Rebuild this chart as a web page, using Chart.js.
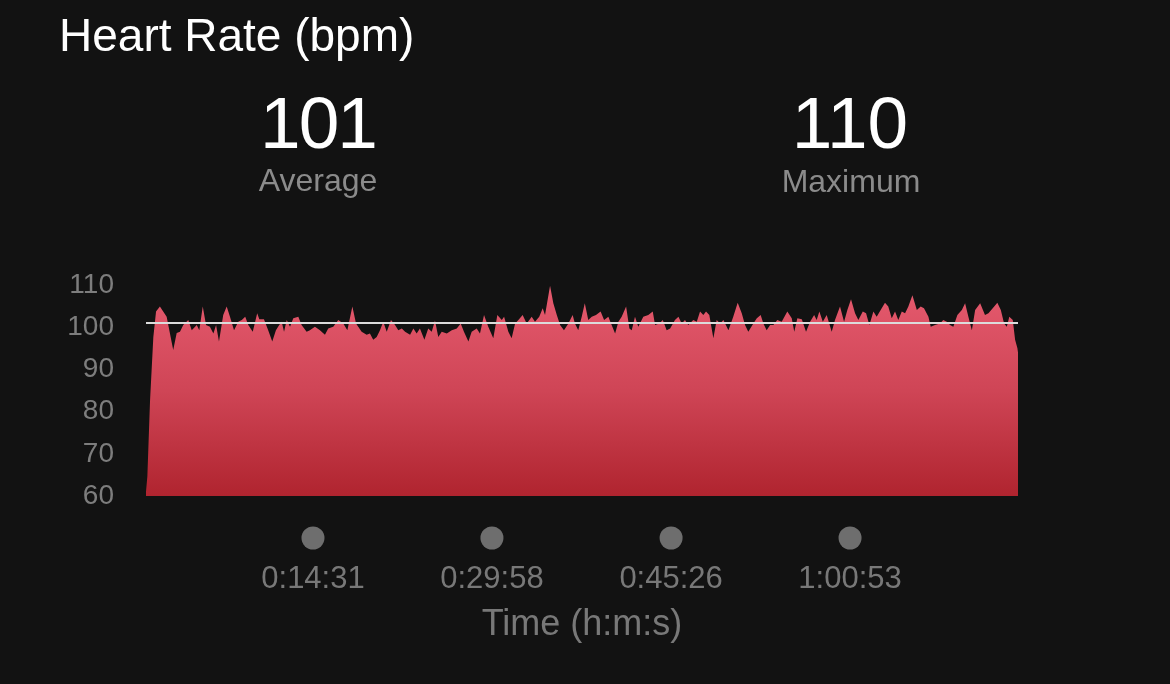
<!DOCTYPE html>
<html>
<head>
<meta charset="utf-8">
<script src="https://cdn.jsdelivr.net/npm/chart.js@4/dist/chart.umd.min.js"></script>
<style>
  html, body { margin: 0; padding: 0; background: #121212; }
  #wrap { position: relative; width: 1170px; height: 684px; overflow: hidden; background: #121212; }
  canvas { position: absolute; left: 0; top: 0; }
  .txt { position: absolute; font-family: 'Liberation Sans', Arial, sans-serif; line-height: 1; white-space: nowrap; }
  #title { left: 59px; top: 12px; font-size: 46px; color: #ffffff; }
  .big { font-size: 73px; color: #ffffff; width: 300px; text-align: center; top: 86px; }
  .lab { font-size: 32px; color: #8b8b8b; width: 300px; text-align: center; top: 164px; }
</style>
</head>
<body>
<div id="wrap">
  <canvas id="c" width="1170" height="684"></canvas>
  <div id="title" class="txt">Heart Rate (bpm)</div>
  <div id="avgVal" class="txt big" style="left:168px;letter-spacing:-2px"></div>
  <div id="avgLab" class="txt lab" style="left:168px">Average</div>
  <div id="maxVal" class="txt big" style="left:700px"></div>
  <div id="maxLab" class="txt lab" style="left:701px;top:165px">Maximum</div>
</div>
<script>
// ---- data (elapsed seconds, heart rate bpm) ----
const times = [
  6, 13, 27, 44, 58, 78, 113, 147, 165, 182, 199, 225, 243, 269, 282, 300, 317, 337, 355, 369,
  384, 406, 424, 441, 462, 484, 502, 520, 536, 559, 582, 593, 617, 639, 660, 679, 696, 709, 721, 735,
  752, 769, 795, 812, 838, 855, 881, 907, 933, 950, 976, 1002, 1028, 1049, 1075, 1094, 1123, 1149, 1166, 1183,
  1201,
  1218, 1235, 1253, 1275, 1296, 1313, 1331, 1348, 1374, 1391, 1408, 1425, 1448, 1468, 1486, 1503, 1520, 1538, 1564, 1590,
  1616, 1636, 1653, 1676, 1693, 1719, 1736, 1757, 1779, 1805, 1826, 1849, 1861, 1883, 1900, 1918, 1935, 1957, 1978, 2004,
  2021, 2043, 2061, 2073, 2099, 2116, 2134, 2151, 2171, 2194, 2216, 2228, 2245, 2263, 2279, 2297, 2315, 2337, 2361, 2379,
  2401, 2418, 2436, 2453, 2470, 2493, 2510, 2522, 2539, 2556, 2582, 2608, 2631, 2643, 2665, 2683, 2703, 2721, 2746, 2764,
  2781, 2798, 2815, 2841, 2859,
  2876, 2893, 2907, 2924, 2945, 2962, 2980, 2997, 3023, 3048, 3071, 3092, 3109, 3126, 3152, 3170, 3190, 3204, 3221, 3239,
  3256, 3276, 3299, 3328, 3351, 3364, 3380, 3403, 3425, 3446, 3467, 3480, 3494, 3512, 3532, 3558, 3575, 3601, 3622, 3639,
  3658, 3679, 3696, 3719, 3736, 3753, 3774, 3791, 3817, 3834, 3851, 3869, 3886, 3903, 3921, 3938, 3955, 3976, 3999, 4019,
  4036, 4059, 4071, 4093, 4119, 4136, 4154, 4171, 4188, 4209, 4232, 4249, 4266, 4284, 4301, 4327, 4352, 4370, 4392, 4416,
  4434, 4451, 4465, 4478, 4496, 4508, 4520, 4523
];
const heartRate = [
  61, 64.6, 82.7, 97.7, 103.7, 104.9, 102.5, 94.6, 98.6, 98.9, 100.5, 101.7, 99.3, 100.5, 99.3, 104.9, 100.5, 100.1, 98.5, 100.5,
  96.6, 102.9, 104.9, 102.5, 99.3, 101.3, 101.7, 102.5, 100.5, 98.9, 103.3, 101.9, 101.9, 99.3, 96.6, 99.3, 100.5, 101.3, 98.9, 101.7,
  100.1, 102.1, 102.5, 100.5, 98.9, 99.3, 100.1, 99.3, 98.2, 99.7, 100.1, 101.7, 100.9, 99.3, 104.9, 100.9, 98.9, 98.2, 98.5, 97.0,
  97.7,
  99.3, 101.3, 98.9, 101.7, 100.5, 99.3, 99.7, 98.9, 98.2, 99.7, 98.5, 99.7, 97.0, 99.7, 98.9, 101.6, 97.7, 98.9, 98.5, 99.3,
  99.7, 100.9, 98.9, 96.6, 98.9, 99.7, 98.5, 102.9, 100.1, 97.4, 102.9, 101.7, 102.5, 98.9, 97.4, 100.9, 101.7, 102.9, 100.9, 102.5,
  101.3, 102.5, 104.5, 102.9, 109.8, 105.7, 102.9, 100.5, 99.3, 100.9, 102.9, 100.9, 99.3, 102.5, 105.7, 101.7, 102.5, 102.9, 103.7, 101.7,
  102.5, 100.5, 98.5, 101.3, 102.5, 104.9, 99.7, 99.3, 102.5, 100.1, 102.5, 102.9, 103.7, 100.5, 100.9, 101.7, 99.3, 99.7, 101.7, 102.5,
  100.9, 101.7, 100.5, 101.7, 101.3,
  103.7, 102.9, 103.7, 102.9, 97.4, 101.7, 100.9, 101.7, 99.3, 102.5, 105.8, 103.3, 100.5, 98.9, 100.9, 102.1, 102.9, 100.9, 99.3, 100.5,
  100.5, 101.7, 101.3, 103.7, 102.1, 98.9, 102.1, 101.9, 98.9, 101.3, 102.9, 101.7, 103.7, 101.3, 102.9, 98.9, 101.7, 104.9, 101.3, 104.1,
  106.6, 103.3, 101.7, 103.7, 103.3, 100.5, 103.7, 102.5, 104.5, 105.8, 104.9, 102.1, 103.7, 101.7, 103.7, 103.3, 104.9, 107.6, 104.1, 104.9,
  104.5, 102.5, 100.1, 100.5, 100.9, 101.7, 101.3, 100.5, 100.1, 102.9, 104.1, 105.7, 102.5, 99.3, 104.1, 105.7, 102.9, 103.3, 104.5, 105.8,
  104.1, 100.9, 100.1, 102.5, 101.7, 97.0, 95.0, 94.0
];
const averageHR = 101;
const maximumHR = 110;
const yTicks = [60, 70, 80, 90, 100, 110];
const xTickSeconds = [871, 1798, 2726, 3653];
const xTickLabels = ['0:14:31', '0:29:58', '0:45:26', '1:00:53'];
const statLabels = ['Average', 'Maximum'];
const xTitle = 'Time (h:m:s)';

document.getElementById('avgVal').textContent = String(averageHR);
document.getElementById('maxVal').textContent = String(maximumHR);
document.getElementById('avgLab').textContent = statLabels[0];
document.getElementById('maxLab').textContent = statLabels[1];

const FONT = "'Liberation Sans', Arial, sans-serif";
const tMin = times[0], tMax = times[times.length - 1];

const tickDots = {
  id: 'tickDots',
  afterDraw(chart) {
    const ctx = chart.ctx, xs = chart.scales.x, ca = chart.chartArea;
    ctx.save();
    ctx.fillStyle = '#6e6e6e';
    xTickSeconds.forEach(t => {
      ctx.beginPath();
      ctx.arc(xs.getPixelForValue(t), ca.bottom + 42, 11.5, 0, Math.PI * 2);
      ctx.fill();
    });
    ctx.restore();
  }
};

new Chart(document.getElementById('c'), {
  type: 'line',
  data: {
    datasets: [
      {
        label: 'Average',
        data: [{ x: tMin, y: averageHR }, { x: tMax, y: averageHR }],
        borderColor: '#dcdcdc',
        borderWidth: 2,
        pointRadius: 0,
        fill: false,
        order: 0
      },
      {
        label: 'Heart Rate',
        data: times.map((t, i) => ({ x: t, y: heartRate[i] })),
        borderWidth: 0,
        borderColor: 'rgba(0,0,0,0)',
        pointRadius: 0,
        tension: 0,
        fill: 'start',
        order: 1,
        backgroundColor: (c) => {
          const ch = c.chart, ca = ch.chartArea;
          if (!ca) return '#d0475a';
          const g = ch.ctx.createLinearGradient(0, ca.top, 0, ca.bottom);
          g.addColorStop(0, '#e65b6f');
          g.addColorStop(0.5, '#cf4556');
          g.addColorStop(1, '#b0242f');
          return g;
        }
      }
    ]
  },
  options: {
    responsive: false,
    animation: false,
    devicePixelRatio: 1,
    layout: { padding: { left: 0, right: 152, top: 285, bottom: 0 } },
    plugins: { legend: { display: false }, tooltip: { enabled: false } },
    scales: {
      x: {
        type: 'linear',
        min: tMin,
        max: tMax,
        grid: { display: false, drawTicks: false },
        border: { display: false },
        afterBuildTicks: (s) => { s.ticks = xTickSeconds.map(v => ({ value: v })); },
        afterFit: (s) => { s.height = 188; },
        ticks: {
          padding: 65,
          color: '#787878',
          maxRotation: 0,
          autoSkip: false,
          font: { family: FONT, size: 31 },
          callback: (v, i) => xTickLabels[i]
        },
        title: {
          display: true,
          text: xTitle,
          color: '#787878',
          font: { family: FONT, size: 36 },
          padding: { top: 0, bottom: 37 }
        }
      },
      y: {
        min: yTicks[0],
        max: yTicks[yTicks.length - 1],
        grid: { display: false, drawTicks: false },
        border: { display: false },
        afterBuildTicks: (s) => { s.ticks = yTicks.map(v => ({ value: v })); },
        afterFit: (s) => { s.width = 146; },
        ticks: {
          padding: 32,
          color: '#7d7d7d',
          font: { family: FONT, size: 28 }
        }
      }
    }
  },
  plugins: [tickDots]
});
</script>
</body>
</html>
